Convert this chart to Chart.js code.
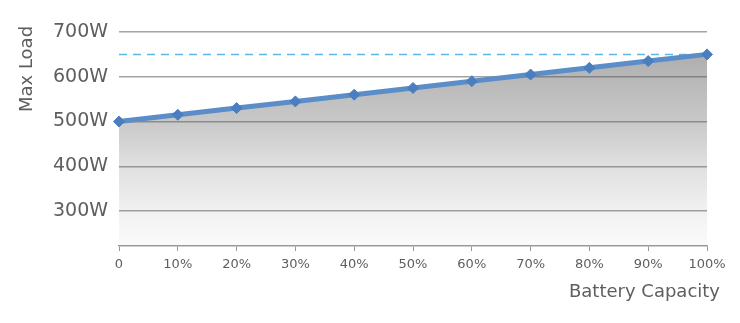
<!DOCTYPE html>
<html lang="en">
<head>
    <meta charset="UTF-8">
    <title>Max Load vs Battery Capacity</title>
    <script src="https://cdn.jsdelivr.net/npm/chart.js"></script>
    <style>
        html, body {
            margin: 0;
            padding: 0;
            background: #fff;
        }
        #wrap {
            width: 740px;
            height: 323px;
        }
    </style>
</head>
<body>
    <div id="wrap"><canvas id="loadChart"></canvas></div>
    <script>
        // chart data
        const capacityLabels = ['0', '10%', '20%', '30%', '40%', '50%', '60%', '70%', '80%', '90%', '100%'];
        const maxLoad = [500, 515, 530, 545, 560, 575, 590, 605, 620, 635, 650];
        const limitLine = [650, 650, 650, 650, 650, 650, 650, 650, 650, 650, 650];
        const yTicks = [300, 400, 500, 600, 700];
        const xTitle = 'Battery Capacity';
        const yTitle = 'Max Load';

        const textColor = '#5e5e5e';
        const fontFamily = '"DejaVu Sans", sans-serif';

        // axis titles placed by hand (right-aligned x title, top-aligned y title)
        const axisTitles = {
            id: 'axisTitles',
            afterDraw(chart) {
                const ctx = chart.ctx;
                ctx.save();
                ctx.fillStyle = textColor;
                ctx.font = '18px ' + fontFamily;
                ctx.textAlign = 'right';
                ctx.textBaseline = 'middle';
                ctx.fillText(xTitle, 720, 292);
                ctx.translate(27, 69);
                ctx.rotate(-Math.PI / 2);
                ctx.textAlign = 'center';
                ctx.fillText(yTitle, 0, 0);
                ctx.restore();
            }
        };

        function areaGradient(context) {
            const area = context.chart.chartArea;
            if (!area) return 'rgba(180,180,180,0.6)';
            const g = context.chart.ctx.createLinearGradient(0, 50, 0, area.bottom);
            g.addColorStop(0, '#adadad');
            g.addColorStop(0.37, '#c9c9c9');
            g.addColorStop(0.59, '#e0e0e0');
            g.addColorStop(0.82, '#f1f1f1');
            g.addColorStop(1, '#fbfbfb');
            return g;
        }

        const ctx = document.getElementById('loadChart').getContext('2d');
        new Chart(ctx, {
            type: 'line',
            data: {
                labels: capacityLabels,
                datasets: [{
                    label: 'Max Load',
                    data: maxLoad,
                    borderColor: '#5b8dc8',
                    borderWidth: 5,
                    backgroundColor: areaGradient,
                    fill: 'start',
                    pointStyle: 'rectRot',
                    pointRadius: 5.5,
                    pointBackgroundColor: '#4a7ebf',
                    pointBorderColor: '#4a7ebf',
                    pointBorderWidth: 1,
                    tension: 0,
                    order: 1
                }, {
                    label: 'Limit',
                    data: limitLine,
                    borderColor: '#62b6e6',
                    borderWidth: 1.5,
                    borderDash: [8, 6],
                    pointRadius: 0,
                    fill: false,
                    order: 2
                }]
            },
            options: {
                responsive: true,
                maintainAspectRatio: false,
                animation: false,
                layout: {
                    padding: { top: 32, right: 33, bottom: 0, left: 0 }
                },
                plugins: {
                    legend: { display: false },
                    tooltip: { enabled: false },
                    filler: { drawTime: 'beforeDraw' }  // fill under the grid lines
                },
                scales: {
                    x: {
                        type: 'category',
                        offset: false,
                        grid: {
                            drawOnChartArea: false,
                            drawTicks: true,
                            tickLength: 5,
                            color: '#999999'
                        },
                        border: { color: '#999999', width: 1.5 },
                        ticks: {
                            color: textColor,
                            font: { family: fontFamily, size: 13 },
                            padding: 6,
                            maxRotation: 0,
                            autoSkip: false
                        },
                        afterFit: s => { s.height = 77; }
                    },
                    y: {
                        min: 222,
                        max: 700,
                        afterBuildTicks: s => { s.ticks = yTicks.map(v => ({ value: v })); },
                        grid: {
                            color: 'rgba(90,90,90,0.55)',
                            lineWidth: 1.5,
                            drawTicks: false
                        },
                        border: { display: false },
                        ticks: {
                            color: textColor,
                            font: { family: fontFamily, size: 19 },
                            padding: 11,
                            callback: v => v + 'W'
                        },
                        afterFit: s => { s.width = 119; }
                    }
                }
            },
            plugins: [axisTitles]
        });
    </script>
</body>
</html>
